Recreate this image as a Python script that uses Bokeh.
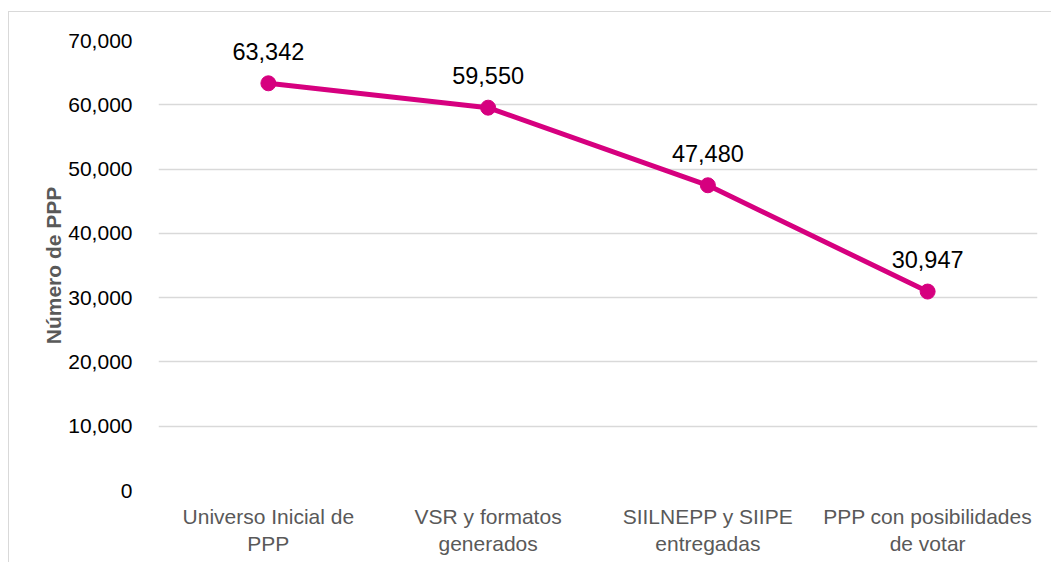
from bokeh.plotting import figure
from bokeh.models import ColumnDataSource, Range1d, FactorRange, NumeralTickFormatter, FixedTicker
from bokeh.core.properties import value
from bokeh.embed import file_html
from bokeh.resources import INLINE

categories = ["Universo Inicial de\nPPP", "VSR y formatos\ngenerados",
              "SIILNEPP y SIIPE\nentregadas", "PPP con posibilidades\nde votar"]
values = [63342, 59550, 47480, 30947]
labels = ["63,342", "59,550", "47,480", "30,947"]
y_ticks = [0, 10000, 20000, 30000, 40000, 50000, 60000, 70000]

FONT = "Liberation Sans"
LINE = "#D6007F"

src = ColumnDataSource(dict(x=categories, y=values, lab=labels))

p = figure(width=1043, height=551, output_backend="svg", toolbar_location=None,
           x_range=FactorRange(*categories), y_range=Range1d(0, 70000),
           min_border_left=149, min_border_right=15, min_border_top=28, min_border_bottom=73)
p.styles = {"border-left": "1px solid #d9d9d9", "border-top": "1px solid #d9d9d9",
            "margin-top": "11px", "margin-left": "8px"}
p.outline_line_color = None
p.background_fill_color = "white"
p.border_fill_color = "white"

p.xgrid.grid_line_color = None
p.ygrid.grid_line_color = "#d9d9d9"
p.ygrid.grid_line_width = 1.3
p.yaxis.ticker = FixedTicker(ticks=y_ticks)
p.yaxis.formatter = NumeralTickFormatter(format="0,0")

for ax in (p.xaxis, p.yaxis):
    ax.axis_line_color = None
    ax.major_tick_line_color = None
    ax.minor_tick_line_color = None
    ax.major_label_text_font = FONT
    ax.major_label_text_font_size = "21px"

p.yaxis.major_label_text_color = "#000000"
p.yaxis.major_label_standoff = 20
p.yaxis.axis_label = "Número de PPP"
p.yaxis.axis_label_text_font = FONT
p.yaxis.axis_label_text_font_size = "21px"
p.yaxis.axis_label_text_font_style = "bold"
p.yaxis.axis_label_text_color = "#595959"
p.yaxis.axis_label_standoff = 0

p.xaxis.major_label_text_color = "#595959"
p.xaxis.major_label_standoff = 8
p.xaxis.major_label_orientation = "horizontal"

p.line("x", "y", source=src, line_color=LINE, line_width=5)
p.scatter("x", "y", source=src, size=15, fill_color=LINE, line_color=LINE)
p.text("x", "y", text="lab", source=src, text_font=value(FONT), text_font_size="23.5px",
       text_color="#000000", text_align="center", text_baseline="alphabetic", y_offset=-32)

open("out.html", "w").write(file_html(p, INLINE))
